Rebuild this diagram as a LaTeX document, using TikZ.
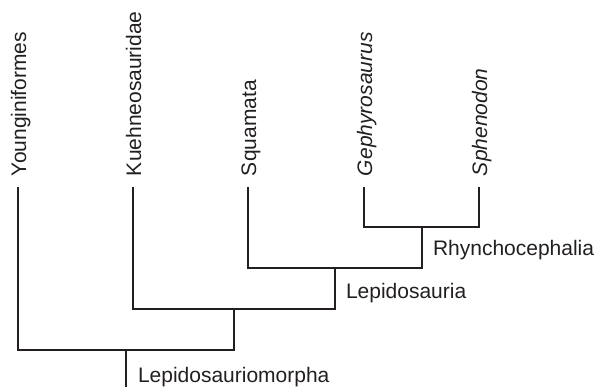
\documentclass[tikz,border=0pt]{standalone}
\usepackage{fontspec}
\setmainfont{Liberation Sans}
\usepackage{tikz}
\usetikzlibrary{positioning}
\usepackage{xcolor}
\definecolor{ink}{RGB}{35, 31, 32}

\begin{document}
\begin{tikzpicture}[x=0.5pt, y=0.5pt, line width=1pt, draw=ink,
    taxon/.style={rotate=90, anchor=base west, inner sep=0pt, text=ink, font=\fontsize{10.5}{12}\selectfont},
    clade/.style={anchor=base west, inner sep=0pt, text=ink, font=\fontsize{10.5}{12}\selectfont}]
    \useasboundingbox (0,0) rectangle (597,387);

    % Tips
    \coordinate (younginiformes) at (18,200);
    \coordinate (kuehneosauridae) at (133,200);
    \coordinate (squamata) at (248,200);
    \coordinate (gephyrosaurus) at (364,200);
    \coordinate (sphenodon) at (479,200);

    % Branch points
    \coordinate (rhy) at (421.5,160);
    \coordinate (lep) at (335,119);
    \coordinate (klep) at (234,78);
    \coordinate (root) at (126,37);
    \coordinate (base) at (126,0);

    % Tree
    \draw (gephyrosaurus) |- (rhy) -| (sphenodon);
    \draw (squamata) |- (lep) -| (rhy);
    \draw (kuehneosauridae) |- (klep) -| (lep);
    \draw (younginiformes) |- (root) -| (klep);
    \draw (root) -- (base);

    % Taxa
    \node[taxon] (t-you) at (26,210) {Younginiformes};
    \node[taxon] (t-kue) at (141,210) {Kuehneosauridae};
    \node[taxon] (t-squ) at (256,210) {Squamata};
    \node[taxon] (t-gep) at (372,210) {\itshape Gephyrosaurus};
    \node[taxon] (t-sph) at (487,210) {\itshape Sphenodon};

    % Clades
    \node[clade] (c-rhy) at (432,132) {Rhynchocephalia};
    \node[clade] (c-lep) at (345,89) {Lepidosauria};
    \node[clade] (c-lmo) at (137,5) {Lepidosauriomorpha};
\end{tikzpicture}
\end{document}
